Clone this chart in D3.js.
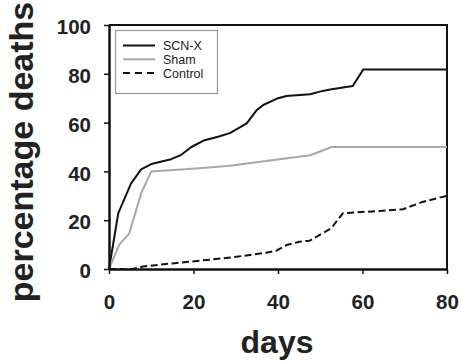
<!DOCTYPE html>
<html>
<head>
<meta charset="utf-8">
<script src="https://cdn.jsdelivr.net/npm/d3@7"></script>
<style>
  body { margin: 0; background: #fff; }
  svg { display: block; font-family: "Liberation Sans", Arial, sans-serif; }
</style>
</head>
<body>
<svg id="chart" width="461" height="363"></svg>
<script>
// survival curves
const scnDays = [0, 2.2, 5.2, 7.6, 10, 14.7, 17.1, 19.5, 22.6, 25.8, 28.6, 32.6, 34.9, 36.5, 40, 42, 47.6, 49.9, 52.3, 57.7, 60.2, 80];
const scnVals = [0, 22.9, 35, 40.8, 43, 45, 46.8, 50, 52.8, 54.2, 55.7, 59.7, 65, 67.2, 70, 70.9, 71.6, 72.7, 73.6, 75, 81.8, 81.8];

const shamDays = [0, 2.4, 4.8, 7.6, 10, 21.4, 28.6, 47.6, 52.7, 80];
const shamVals = [0, 9.9, 14.6, 31, 40, 41.3, 42.3, 46.6, 50, 50];

const ctrlDays = [0, 5.6, 8, 15, 21.4, 29.3, 37.2, 39.6, 42, 45.1, 47.5, 52.6, 55.4, 64.1, 69.6, 74.4, 80];
const ctrlVals = [0, 0, 1, 2.3, 3.4, 4.8, 6.7, 7.5, 9.8, 11.2, 11.6, 16.7, 22.9, 23.8, 24.5, 27.6, 30];

const xTicks = [0, 20, 40, 60, 80];
const yTicks = [0, 20, 40, 60, 80, 100];

const series = [
  { name: "SCN-X", days: scnDays, vals: scnVals, color: "#111", dash: null },
  { name: "Sham", days: shamDays, vals: shamVals, color: "#a8a8a8", dash: null },
  { name: "Control", days: ctrlDays, vals: ctrlVals, color: "#111", dash: "7,3.5" }
];

const svg = d3.select("#chart");
const mLeft = 109, mRight = 447, mTop = 25, mBottom = 269;

const x = d3.scaleLinear().domain([0, 80]).range([mLeft, mRight]);
const y = d3.scaleLinear().domain([0, 100]).range([mBottom, mTop]);

// frame top + right
svg.append("path")
  .attr("d", `M${mLeft},${mTop}H${mRight}V${mBottom}`)
  .attr("fill", "none")
  .attr("stroke", "#111")
  .attr("stroke-width", 2);

const line = d3.line().x(d => x(d[0])).y(d => y(d[1]));

series.forEach(s => {
  svg.append("path")
    .datum(d3.zip(s.days, s.vals))
    .attr("d", line)
    .attr("fill", "none")
    .attr("stroke", s.color)
    .attr("stroke-width", 2)
    .attr("stroke-dasharray", s.dash)
    .attr("stroke-linejoin", "round");
});

// axes
const xAxis = svg.append("g")
  .attr("transform", `translate(0,${mBottom})`)
  .call(d3.axisBottom(x).tickValues(xTicks).tickSize(5).tickPadding(20).tickSizeOuter(0));

const yAxis = svg.append("g")
  .attr("transform", `translate(${mLeft},0)`)
  .call(d3.axisLeft(y).tickValues(yTicks).tickSize(5).tickPadding(13).tickSizeOuter(0));

[xAxis, yAxis].forEach(g => {
  g.select(".domain").attr("stroke", "#111").attr("stroke-width", 2.5);
  g.selectAll(".tick line").attr("stroke", "#111").attr("stroke-width", 1.5);
  g.selectAll(".tick text")
    .attr("fill", "#222")
    .style("font-size", "20.5px")
    .style("font-weight", "bold");
});
yAxis.selectAll(".tick text").attr("dy", "0.42em");

// axis titles
svg.append("text")
  .attr("x", 277)
  .attr("y", 353)
  .attr("text-anchor", "middle")
  .attr("fill", "#222")
  .style("font-size", "32px")
  .style("font-weight", "bold")
  .text("days");

svg.append("text")
  .attr("transform", "translate(33,152) rotate(-90)")
  .attr("text-anchor", "middle")
  .attr("fill", "#222")
  .style("font-size", "34px")
  .style("font-weight", "bold")
  .text("percentage deaths");

// legend
const legend = svg.append("g");
legend.append("rect")
  .attr("x", 115.5).attr("y", 30.5)
  .attr("width", 102).attr("height", 63)
  .attr("fill", "#fff")
  .attr("stroke", "#999")
  .attr("stroke-width", 1.2);

series.forEach((s, i) => {
  const ly = 45.5 + i * 13.8;
  legend.append("line")
    .attr("x1", 123).attr("x2", 155)
    .attr("y1", ly).attr("y2", ly)
    .attr("stroke", s.color)
    .attr("stroke-width", 2)
    .attr("stroke-dasharray", s.dash ? "7,5" : null);
  legend.append("text")
    .attr("x", 163).attr("y", ly)
    .attr("dy", "0.36em")
    .attr("fill", "#222")
    .style("font-size", "12.5px")
    .text(s.name);
});
</script>
</body>
</html>
